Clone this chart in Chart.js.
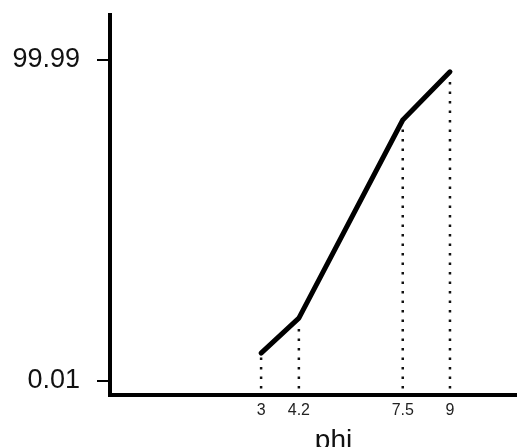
<!DOCTYPE html>
<html>
<head>
<meta charset="utf-8">
<script src="https://cdn.jsdelivr.net/npm/chart.js@4/dist/chart.umd.min.js"></script>
<style>
  html, body { margin: 0; padding: 0; background: #fff; overflow: hidden; }
</style>
</head>
<body>
<!-- canvas a little wider than the window: the x axis runs off the right edge like in the scan -->
<canvas id="chart" width="557" height="447"></canvas>
<script>
// values (y read on a linear scale)
const phi = [3, 4.2, 7.5, 9];
const values = [8.7, 19.6, 81.3, 96.3];
const xTickLabels = ["3", "4.2", "7.5", "9"];
const yTicks = [0.01, 99.99];
const yTickLabels = ["0.01", "99.99"];

const yMin = -4.35;
const yMax = 114;

const dropLines = phi.map((x, i) => ({
  data: [{ x: x, y: yMin + 2 }, { x: x, y: values[i] - 1.2 }],
  borderColor: "#111",
  borderWidth: 2.5,
  borderDash: [2.5, 7],
  pointRadius: 0,
  fill: false,
}));

const mainLine = {
  data: phi.map((x, i) => ({ x: x, y: values[i] })),
  borderColor: "#000",
  borderWidth: 5,
  borderJoinStyle: "round",
  borderCapStyle: "round",
  pointRadius: 0,
  tension: 0,
  fill: false,
};

const cfg = {
  type: "line",
  data: { datasets: [mainLine, ...dropLines] },
  options: {
    responsive: false,
    animation: false,
    devicePixelRatio: 1,
    layout: { padding: { top: 15, right: 0, left: 0, bottom: 0 } },
    plugins: { legend: { display: false }, tooltip: { enabled: false } },
    scales: {
      x: {
        type: "linear",
        min: -1.8,
        max: 12.4,
        afterBuildTicks: (scale) => {
          scale.ticks = phi.map((v) => ({ value: v }));
        },
        afterFit: (scale) => {
          scale.height = 52;
          scale.paddingLeft = 0;
          scale.paddingRight = 0;
        },
        grid: { display: false, drawTicks: false },
        border: { display: true, color: "#000", width: 4 },
        ticks: {
          padding: 6,
          color: "#222",
          font: { family: "Liberation Sans", size: 16 },
          callback: (value, index) => xTickLabels[index],
          maxRotation: 0,
          autoSkip: false,
        },
        title: {
          display: true,
          text: "phi",
          color: "#111",
          font: { family: "Liberation Sans", size: 28, lineHeight: 1 },
          padding: { top: 0, bottom: -8 },
        },
      },
      y: {
        min: yMin,
        max: yMax,
        afterBuildTicks: (scale) => {
          scale.ticks = yTicks.map((v) => ({ value: v }));
        },
        afterFit: (scale) => {
          scale.width = 110;
          scale.paddingTop = 0;
          scale.paddingBottom = 0;
        },
        grid: {
          drawOnChartArea: false,
          drawTicks: true,
          tickLength: 13,
          color: "#000",
          lineWidth: 2,
        },
        border: { display: true, color: "#000", width: 4 },
        ticks: {
          padding: 17,
          color: "#111",
          font: { family: "Liberation Sans", size: 27 },
          callback: (value, index) => yTickLabels[index],
          autoSkip: false,
        },
      },
    },
  },
};

new Chart(document.getElementById("chart"), cfg);
</script>
</body>
</html>
